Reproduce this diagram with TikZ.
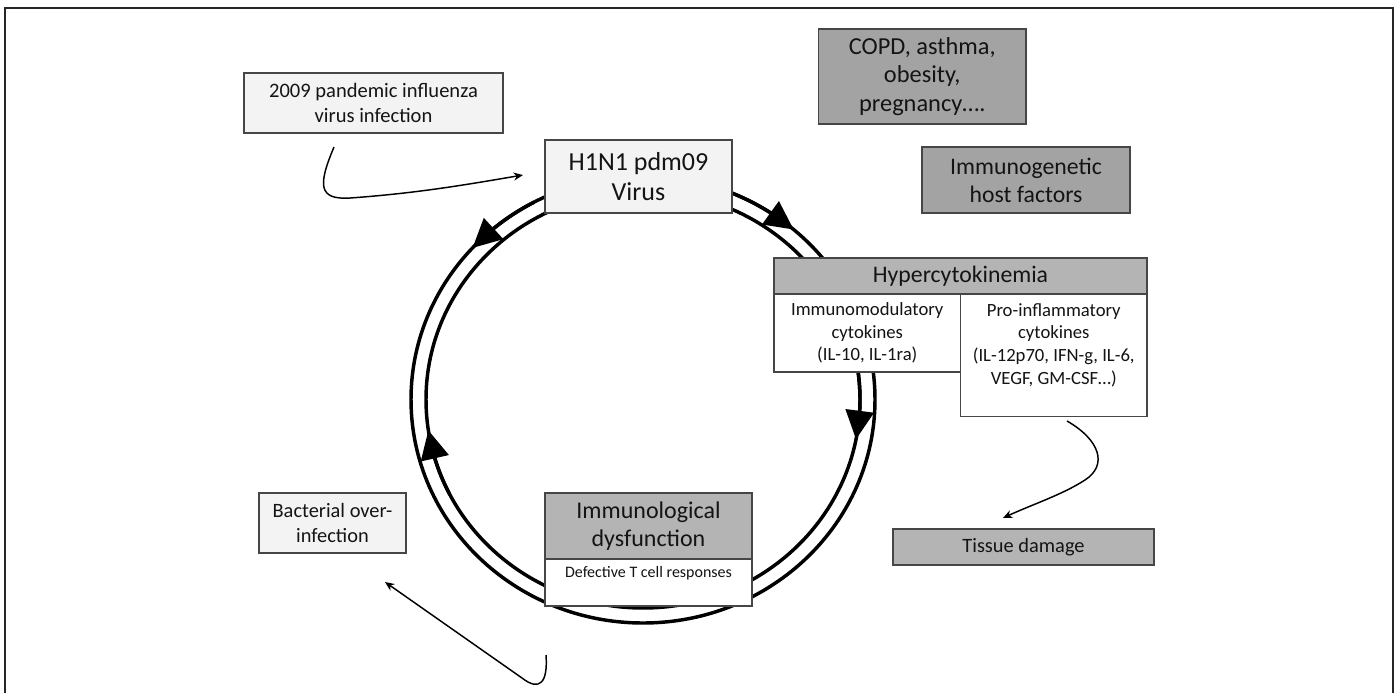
\documentclass[tikz,border=0pt]{standalone}
\usepackage{fontspec}
\setmainfont{Carlito}
\usetikzlibrary{arrows.meta,bending}
\definecolor{lightbox}{RGB}{243,243,243}
\definecolor{darkbox}{RGB}{163,163,163}
\definecolor{midbox}{RGB}{180,180,180}
\definecolor{edgecol}{RGB}{70,70,70}
\definecolor{txt}{RGB}{20,20,20}
\tikzset{
  fs/.style 2 args={font=\fontsize{#1}{#2}\selectfont},
  box/.style={draw=edgecol, line width=0.9pt, inner sep=0pt, align=center, text=txt},
  lightb/.style={box, fill=lightbox},
  darkb/.style={box, fill=darkbox},
  midb/.style={box, fill=midbox},
  whiteb/.style={box, fill=white},
  plain/.style={inner sep=0pt, align=center, text=txt},
  ring/.style={line width=2.6pt, black},
  ringtip/.style={ring, -{Triangle[length=21.5pt,width=21pt]}},
  thinarrow/.style={line width=1.1pt, black, -{Stealth[length=7pt,width=6pt]}},
}
\begin{document}
\begin{tikzpicture}[x=0.75pt,y=0.75pt]
\useasboundingbox (0,0) rectangle (1396,-693);
% frame
\draw[line width=1.1pt, black!85] (5,-693) -- (5,-8) -- (1393,-8) -- (1393,-693);
% ring
\coordinate (c) at (643,-399.5);
\draw[ring] (c) ellipse [x radius=232, y radius=223.5];
\draw[ring] (c) ellipse [x radius=217, y radius=208.5];
% ring arrowheads
\draw[ringtip] ([shift={(118:232 and 223.5)}]c) arc[start angle=118, end angle=137.3, x radius=232, y radius=223.5];
\draw[ringtip] ([shift={(68:232 and 223.5)}]c) arc[start angle=68, end angle=49.5, x radius=232, y radius=223.5];
\draw[ringtip] ([shift={(8:217 and 208.5)}]c) arc[start angle=8, end angle=-11, x radius=217, y radius=208.5];
\draw[ringtip] ([shift={(207:217 and 208.5)}]c) arc[start angle=207, end angle=188.5, x radius=217, y radius=208.5];
% boxes
\node[lightb, fs={15.4pt}{18.75pt}, minimum width=194.25pt, minimum height=45pt] (inf) at (373.5,-103) {2009 pandemic influenza\\virus infection};
\node[lightb, fs={19.5pt}{22.5pt}, minimum width=140.25pt, minimum height=54.75pt] (h1n1) at (638.5,-176.5) {H1N1 pdm09\\Virus};
\node[darkb, fs={18.3pt}{21.25pt}, minimum width=155.6pt, minimum height=71.25pt] (copd) at (922.25,-76.5) {COPD, asthma,\\obesity,\\pregnancy\dots.};
\node[darkb, fs={17.8pt}{21pt}, minimum width=156pt, minimum height=49.5pt] (immgen) at (1026,-180) {Immunogenetic\\host factors};
\node[midb, fs={17.8pt}{21pt}, minimum width=279.75pt, minimum height=27pt] (hyper) at (960.5,-276) {Hypercytokinemia};
\node[whiteb, fs={14pt}{17pt}, minimum width=139.9pt, minimum height=58.5pt] (immmod) at (867.25,-333) {Immunomodulatory\\cytokines\\(IL-10, IL-1ra)};
\node[whiteb, minimum width=139.9pt, minimum height=91.9pt] (pro) at (1053.75,-355.25) {};
\node[plain, fs={14pt}{17pt}] (protxt) at (1053.75,-345) {Pro-inflammatory\\cytokines\\(IL-12p70, IFN-g, IL-6,\\VEGF, GM-CSF\dots)};
\node[midb, fs={15.3pt}{18pt}, minimum width=195.75pt, minimum height=27pt] (tissue) at (1023.5,-547) {Tissue damage};
\node[midb, fs={18pt}{21pt}, minimum width=155.25pt, minimum height=49.5pt] (immdys) at (648.5,-526) {Immunological\\dysfunction};
\node[whiteb, minimum width=155.25pt, minimum height=35.25pt] (defect) at (648.5,-582.5) {};
\node[plain, fs={12pt}{14pt}] (deftxt) at (648.5,-573) {Defective T cell responses};
\node[lightb, fs={15.3pt}{18.75pt}, minimum width=110.25pt, minimum height=45pt] (bact) at (332.5,-523) {Bacterial over-\\infection};
% thin curved arrows
\coordinate (a1s) at (334,-147);
\coordinate (a1e) at (523,-175);
\draw[thinarrow] (a1s) .. controls (318,-185) and (318,-200) .. (350,-198) .. controls (420,-193) and (470,-184) .. (a1e);
\coordinate (a2s) at (1067,-421);
\coordinate (a2e) at (1003,-518);
\draw[thinarrow] (a2s) .. controls (1100,-440) and (1108,-465) .. (1085,-480) .. controls (1060,-496) and (1030,-505) .. (a2e);
\coordinate (a3s) at (546,-655);
\coordinate (a3e) at (385,-582);
\draw[thinarrow] (a3s) .. controls (548,-682) and (540,-692) .. (522,-678) -- (a3e);
\end{tikzpicture}
\end{document}
